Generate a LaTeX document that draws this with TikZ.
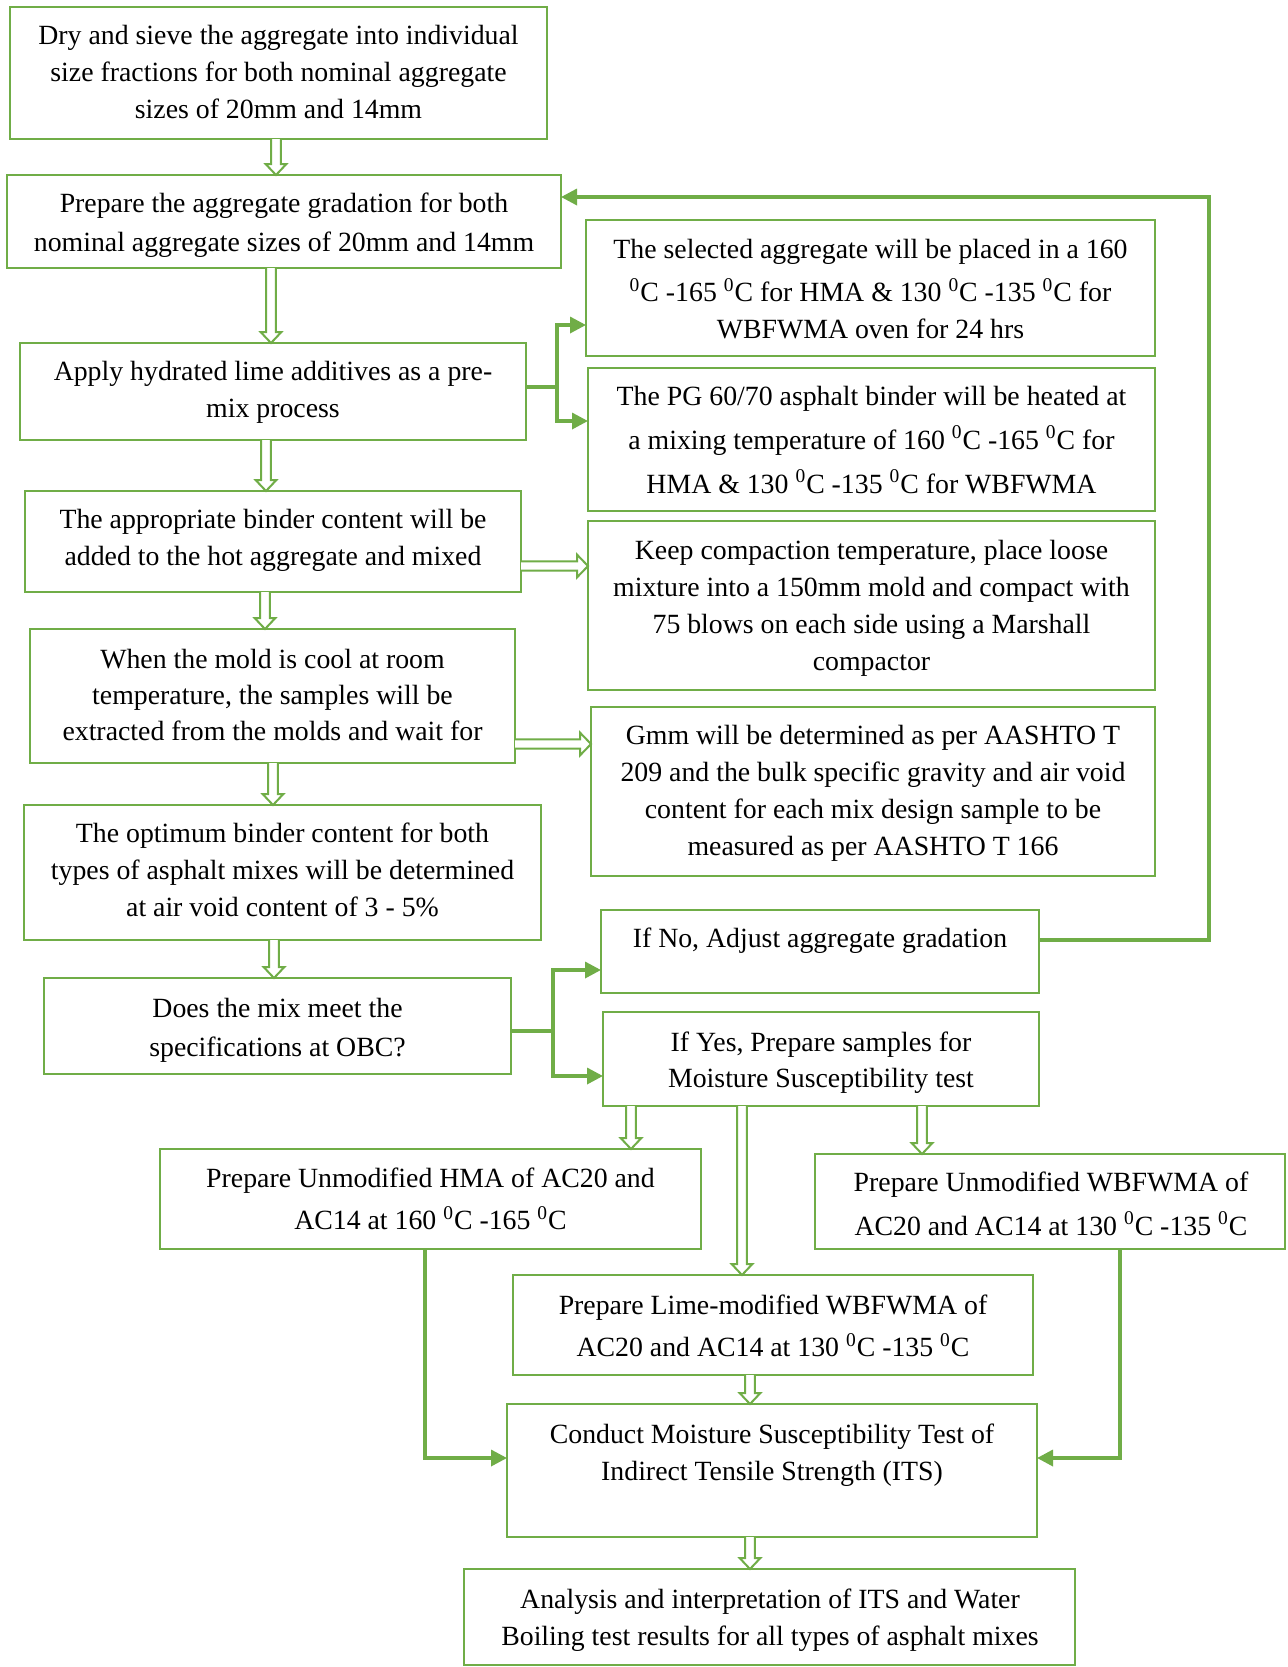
\documentclass[tikz,border=0pt]{standalone}
\usepackage{fontspec}
\setmainfont{Liberation Serif}
\usetikzlibrary{arrows.meta,calc}
\definecolor{grn}{HTML}{70AD47}
\newcommand\degz{\textsuperscript{0}}
\newcommand\bx[5]{\node[box, minimum width={(#4-#2)*0.5pt}, minimum height={(#5-#3)*0.5pt}] (#1) at ({(#2+#4)/2},{(#3+#5)/2}) {};}
% vertical hollow arrow: x, from node, to node
\newcommand\hv[3]{\draw[hollow] let \p1=(#2.south), \p2=(#3.north), \p3=(#1,0) in
  (\x3-2.4pt,\y1) -- (\x3-2.4pt,\y2+5.5pt) -- (\x3-5.2pt,\y2+5.5pt) -- (\x3,\y2) -- (\x3+5.2pt,\y2+5.5pt) -- (\x3+2.4pt,\y2+5.5pt) -- (\x3+2.4pt,\y1);}
% horizontal hollow arrow: y, from node, to node
\newcommand\hh[3]{\draw[hollow] let \p1=(#2.east), \p2=(#3.west), \p3=(0,#1) in
  (\x1,\y3+2.3pt) -- (\x2-5.5pt,\y3+2.3pt) -- (\x2-5.5pt,\y3+5.7pt) -- (\x2,\y3) -- (\x2-5.5pt,\y3-5.7pt) -- (\x2-5.5pt,\y3-2.3pt) -- (\x1,\y3-2.3pt);}
\begin{document}
\begin{tikzpicture}[x=0.5pt,y=-0.5pt,
  box/.style={draw=grn, line width=1.3pt, inner sep=0pt, outer sep=0pt, rectangle},
  txt/.style={inner sep=0pt, align=center, font=\fontsize{13.9}{18.5}\selectfont},
  dn/.style={yshift=-1.6pt},
  conn/.style={draw=grn, line width=1.7pt},
  arr/.style={-{Triangle[length=8pt,width=8pt]}},
  hollow/.style={draw=grn, line width=1pt, fill=white, line join=miter}]
\useasboundingbox (0,0) rectangle (1287,1667);
\fill[white] (0,0) rectangle (1287,1667);

% boxes
\bx{b1}{10}{7}{547}{139}
\bx{b2}{7}{175}{561}{268}
\bx{bA}{586}{220}{1155}{356}
\bx{bB}{588}{368}{1155}{511}
\bx{b3}{20}{343}{526}{440}
\bx{b4}{25}{491}{521}{592}
\bx{bC}{588}{521}{1155}{690}
\bx{b5}{30}{629}{515}{763}
\bx{bD}{591}{707}{1155}{876}
\bx{b6}{24}{805}{541}{940}
\bx{b7}{44}{978}{511}{1074}
\bx{bE}{601}{910}{1039}{993}
\bx{bF}{603}{1012}{1039}{1106}
\bx{bG}{160}{1149}{701}{1249}
\bx{bH}{815}{1154}{1285}{1249}
\bx{bI}{513}{1275}{1033}{1375}
\bx{bJ}{507}{1404}{1037}{1537}
\bx{bK}{464}{1569}{1075}{1665}

% texts
\node[txt] (t1) at (278.5,72) {Dry and sieve the aggregate into individual\\size fractions for both nominal aggregate\\sizes of 20mm and 14mm};
\node[txt,dn,font=\fontsize{13.9}{19.3}\selectfont] (t2) at (284,222) {Prepare the aggregate gradation for both\\nominal aggregate sizes of 20mm and 14mm};
\node[txt,font=\fontsize{13.9}{18.6}\selectfont] (tA) at (870.5,289) {The selected aggregate will be placed in a 160\\[3.2pt]\degz C -165 \degz C for HMA \& 130 \degz C -135 \degz C for\\WBFWMA oven for 24 hrs};
\node[txt,font=\fontsize{13.9}{22}\selectfont] (tB) at (871.5,440) {The PG 60/70 asphalt binder will be heated at\\a mixing temperature of 160 \degz C -165 \degz C for\\HMA \& 130 \degz C -135 \degz C for WBFWMA};
\node[txt,dn] (t3) at (273,389.5) {Apply hydrated lime additives as a pre-\\mix process};
\node[txt,dn] (t4) at (273,537.5) {The appropriate binder content will be\\added to the hot aggregate and mixed};
\node[txt,dn] (tC) at (871.5,605) {Keep compaction temperature, place loose\\mixture into a 150mm mold and compact with\\75 blows on each side using a Marshall\\compactor};
\node[txt,font=\fontsize{13.9}{18}\selectfont] (t5) at (272.5,694.5) {When the mold is cool at room\\temperature, the samples will be\\extracted from the molds and wait for};
\node[txt,dn] (tD) at (873,790) {Gmm will be determined as per AASHTO T\\209 and the bulk specific gravity and air void\\content for each mix design sample to be\\measured as per AASHTO T 166};
\node[txt] (t6) at (282.5,870) {The optimum binder content for both\\types of asphalt mixes will be determined\\at air void content of 3 - 5\%};
\node[txt,dn,font=\fontsize{13.9}{19.2}\selectfont] (t7) at (277.5,1027) {Does the mix meet the\\specifications at OBC?};
\node[txt,dn] (tE) at (820,937) {If No, Adjust aggregate gradation};
\node[txt,dn,font=\fontsize{13.9}{18}\selectfont] (tF) at (821,1059.6) {If Yes, Prepare samples for\\Moisture Susceptibility test};
\node[txt,font=\fontsize{13.9}{21.3}\selectfont] (tG) at (430.5,1199) {Prepare Unmodified HMA of AC20 and\\AC14 at 160 \degz C -165 \degz C};
\node[txt,font=\fontsize{13.9}{21.7}\selectfont] (tH) at (1051,1203.7) {Prepare Unmodified WBFWMA of\\AC20 and AC14 at 130 \degz C -135 \degz C};
\node[txt,font=\fontsize{13.9}{21.3}\selectfont] (tI) at (773,1326) {Prepare Lime-modified WBFWMA of\\AC20 and AC14 at 130 \degz C -135 \degz C};
\node[txt,dn] (tJ) at (772,1452) {Conduct Moisture Susceptibility Test of\\Indirect Tensile Strength (ITS)};
\node[txt,dn] (tK) at (770,1617) {Analysis and interpretation of ITS and Water\\Boiling test results for all types of asphalt mixes};

% hollow arrows
\hv{276}{b1}{b2}
\hv{271}{b2}{b3}
\hv{266}{b3}{b4}
\hv{265}{b4}{b5}
\hv{273}{b5}{b6}
\hv{274}{b6}{b7}
\hv{631}{bF}{bG}
\hv{742}{bF}{bI}
\hv{922}{bF}{bH}
\hv{750}{bI}{bJ}
\hv{750}{bJ}{bK}
\hh{566}{b4}{bC}
\hh{744}{b5}{bD}

% solid connectors
\coordinate (jA) at (557,387);
\coordinate (pA) at (0,325);
\coordinate (pB) at (0,421);
\draw[conn,line width=2.4pt] (b3.east |- jA) -- (jA);
\draw[conn,arr] (jA) |- (bA.west |- pA);
\draw[conn,arr] (jA) |- (bB.west |- pB);

\coordinate (jE) at (553,1031);
\coordinate (pE) at (0,970);
\coordinate (pF) at (0,1076);
\draw[conn,line width=2pt] (b7.east |- jE) -- (jE);
\draw[conn,arr] (jE) |- (bE.west |- pE);
\draw[conn,arr] (jE) |- (bF.west |- pF);

\coordinate (fbTop) at (1209,197);
\coordinate (pFb) at (0,940);
\draw[conn,arr] (bE.east |- pFb) -| (fbTop) -- (b2.east |- fbTop);

\coordinate (pJ) at (0,1458);
\coordinate (xG) at (425,0);
\coordinate (xH) at (1120,0);
\draw[conn,arr] (bG.south -| xG) |- (bJ.west |- pJ);
\draw[conn,arr] (bH.south -| xH) |- (bJ.east |- pJ);
\end{tikzpicture}
\end{document}
